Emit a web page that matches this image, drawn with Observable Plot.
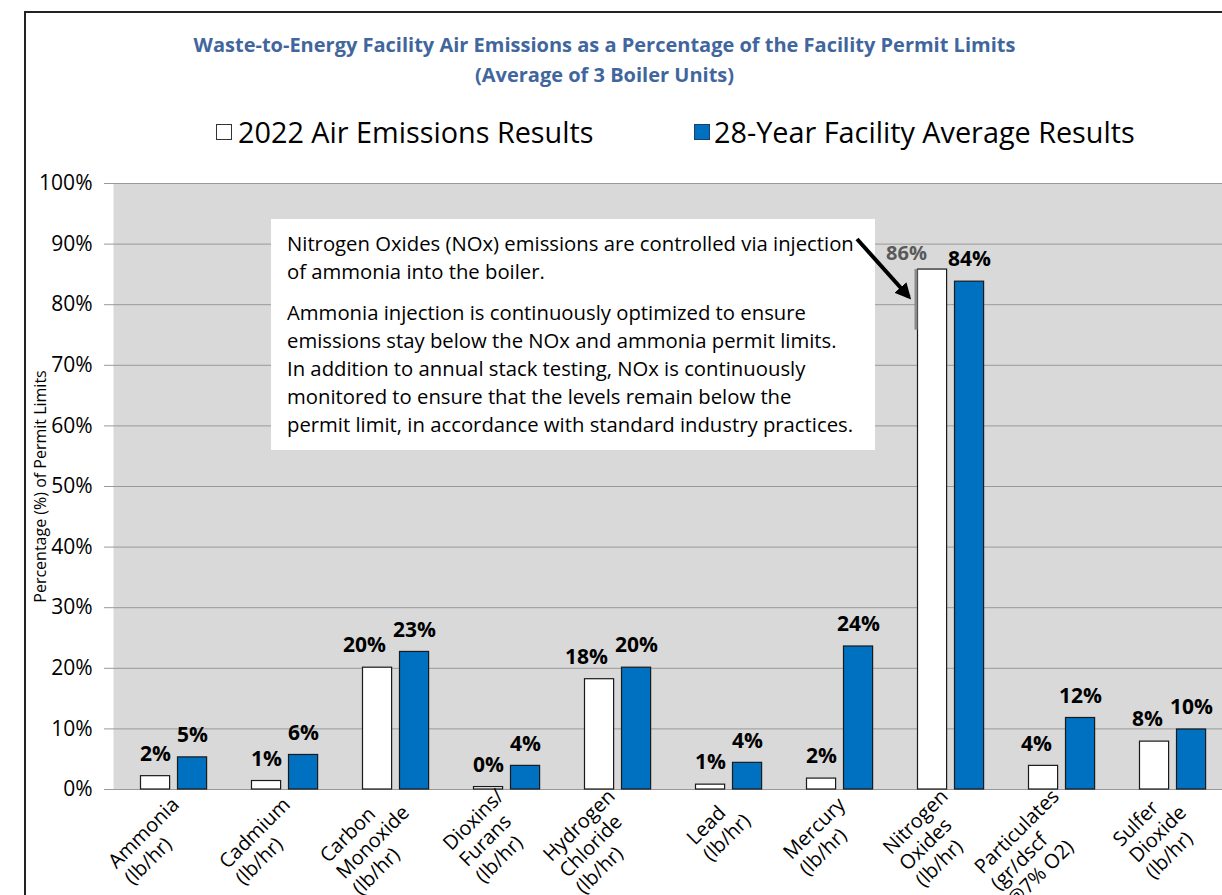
<!DOCTYPE html>
<html>
<head>
<meta charset="utf-8">
<script src="https://cdn.jsdelivr.net/npm/d3@7"></script>
<script src="https://cdn.jsdelivr.net/npm/@observablehq/plot@0.6"></script>
<style>
  html, body { margin: 0; padding: 0; background: #fff; }
  body { width: 1222px; height: 895px; overflow: hidden; position: relative; font-family: "Open Sans", sans-serif; }
  #frame { position: absolute; left: 24px; top: 11px; width: 1300px; height: 1000px; border-left: 2px solid #222; border-top: 2px solid #222; }
  #title { position: absolute; left: 0; top: 30px; width: 1209px; text-align: center; color: #41669d; font-weight: bold; font-size: 20px; line-height: 30px; white-space: nowrap; }
  .sw { position: absolute; top: 124px; width: 14px; height: 14px; border: 1px solid #333; }
  .lt { position: absolute; top: 112px; font-size: 28.8px; line-height: 40px; color: #000; white-space: nowrap; }
  #chart { position: absolute; left: 0; top: 160px; width: 1240px; }
  #chart svg { max-width: none; }
  #note { position: absolute; left: 271px; top: 219px; width: 588px; height: 221px; background: #fff; padding: 10px 0 0 16px; font-size: 20.3px; line-height: 28px; color: #000; white-space: nowrap; }
  #note p { margin: 0; }
  #note p + p { margin-top: 13px; }
  #arrow { position: absolute; left: 0; top: 0; }
</style>
</head>
<body>
<div id="frame"></div>
<div id="title">Waste-to-Energy Facility Air Emissions as a Percentage of the Facility Permit Limits<br>(Average of 3 Boiler Units)</div>
<div id="legend"></div>
<div id="chart"></div>
<div id="note"></div>
<svg id="arrow" width="1222" height="895">
  <defs>
    <marker id="head" viewBox="0 0 10 10" refX="8" refY="5" markerWidth="4" markerHeight="4" orient="auto">
      <path d="M0,0 L10,5 L0,10 z" fill="#000"></path>
    </marker>
  </defs>
  <line x1="857" y1="239" x2="909" y2="297" stroke="#000" stroke-width="4" marker-end="url(#head)"></line>
</svg>
<script>
// ---- data ----
const categories = ["Ammonia", "Cadmium", "Carbon Monoxide", "Dioxins/Furans", "Hydrogen Chloride", "Lead", "Mercury", "Nitrogen Oxides", "Particulates", "Sulfer Dioxide"];
const categoryLabels = [
  ["Ammonia", "(lb/hr)"],
  ["Cadmium", "(lb/hr)"],
  ["Carbon", "Monoxide", "(lb/hr)"],
  ["Dioxins/", "Furans", "(lb/hr)"],
  ["Hydrogen", "Chloride", "(lb/hr)"],
  ["Lead", "(lb/hr)"],
  ["Mercury", "(lb/hr)"],
  ["Nitrogen", "Oxides", "(lb/hr)"],
  ["Particulates", "(gr/dscf", "@7% O2)"],
  ["Sulfer", "Dioxide", "(lb/hr)"]
];
const results2022 = [2.2, 1.4, 20.1, 0.4, 18.2, 0.8, 1.8, 85.8, 3.9, 7.9];
const average28yr = [5.3, 5.7, 22.7, 3.9, 20.1, 4.4, 23.6, 83.8, 11.8, 9.9];
const yTicks = [0, 10, 20, 30, 40, 50, 60, 70, 80, 90, 100];
const seriesNames = ["2022 Air Emissions Results", "28-Year Facility Average Results"];
const seriesColors = ["#ffffff", "#0070c0"];
const yAxisTitle = "Percentage (%) of Permit Limits";
const highlighted = "Nitrogen Oxides";
const noteParagraphs = [
  ["Nitrogen Oxides (NOx) emissions are controlled via injection", "of ammonia into the boiler."],
  ["Ammonia injection is continuously optimized to ensure", "emissions stay below the NOx and ammonia permit limits.", "In addition to annual stack testing, NOx is continuously", "monitored to ensure that the levels remain below the", "permit limit, in accordance with standard industry practices."]
];

// ---- legend ----
const legend = document.getElementById("legend");
const legendPos = [[216, 238], [694, 714]];
seriesNames.forEach((name, i) => {
  const sw = document.createElement("div");
  sw.className = "sw";
  sw.style.left = legendPos[i][0] + "px";
  sw.style.background = seriesColors[i];
  sw.style.borderColor = i === 0 ? "#333" : "#1f3f66";
  legend.appendChild(sw);
  const t = document.createElement("div");
  t.className = "lt";
  t.style.left = legendPos[i][1] + "px";
  t.textContent = name;
  legend.appendChild(t);
});

// ---- note ----
const note = document.getElementById("note");
noteParagraphs.forEach(lines => {
  const p = document.createElement("p");
  p.innerHTML = lines.map(l => l.replace(/&/g, "&amp;").replace(/</g, "&lt;")).join("<br>");
  note.appendChild(p);
});

// ---- chart ----
const pct = v => Math.round(v) + "%";
const ctx = document.createElement("canvas").getContext("2d");

// geometry of the chart (styling)
const H = 735, mTop = 23, mBottom = 106;
const pxPerUnit = (H - mTop - mBottom) / 100;
const barOffset = 18.5;      // bar center offset from band center
const labelFont = 21, labelGap = 7;

ctx.font = `bold ${labelFont}px 'Open Sans'`;
const data = categories.map((c, i) => {
  const a = pct(results2022[i]), b = pct(average28yr[i]);
  const wa = ctx.measureText(a).width, wb = ctx.measureText(b).width;
  // shift the 2022 label left when it would collide with the average label
  const gap = (2 * barOffset) - wa / 2 - wb / 2;
  const dyPx = Math.abs(results2022[i] - average28yr[i]) * pxPerUnit;
  const shift = (gap < 4 && dyPx < 60) ? (labelGap - gap) : 0;
  return {category: c, r2022: results2022[i], avg: average28yr[i], la: a, lb: b, shift};
});

ctx.font = "20px 'Open Sans'";
const lineH = 1.15, xFont = 20;
const xLabelMarks = categories.map((c, i) => {
  const lines = categoryLabels[i];
  const W = Math.max(...lines.map(l => ctx.measureText(l).width));
  const half = lines.length * lineH * xFont / 2 * 0.7071;
  return Plot.text([c], {
    x: d => d,
    frameAnchor: "bottom",
    text: () => lines.join("\n"),
    rotate: -45,
    textAnchor: "start",
    lineAnchor: "top",
    lineHeight: lineH,
    fontSize: xFont,
    fill: "#000",
    dx: 11 - 0.7071 * W - half,
    dy: 21 + 0.7071 * W - half
  });
});

const labelMarks = data.map(d => d.category === highlighted
  ? Plot.text([d], {x: "category", y: "r2022", text: "la", dx: -barOffset - 26, dy: -16, fontSize: 20, fontWeight: "bold", fill: "#5a5a5a"})
  : Plot.text([d], {x: "category", y: "r2022", text: "la", dx: -barOffset - d.shift, dy: -22, fontSize: labelFont, fontWeight: "bold", fill: "#000"}));

const hl = data.filter(d => d.category === highlighted);

const chart = Plot.plot({
  width: 1240,
  height: H,
  marginLeft: 113,
  marginRight: 8,
  marginTop: mTop,
  marginBottom: mBottom,
  style: {fontFamily: "'Open Sans', sans-serif", fontSize: "19px", color: "#000", background: "transparent", overflow: "visible", maxWidth: "none"},
  x: {type: "band", domain: categories, padding: 0, axis: null},
  y: {domain: [0, 100], axis: null},
  marks: [
    Plot.frame({fill: "#d9d9d9", stroke: null}),
    Plot.gridY(yTicks, {stroke: "#999999", strokeOpacity: 1, strokeWidth: 1}),
    Plot.axisY(yTicks, {tickFormat: d => d + "%", tickSize: 9, tickPadding: 12, stroke: "#999999", fill: "#000", fontSize: 21, label: null}),
    Plot.text([yAxisTitle], {frameAnchor: "left", textAnchor: "middle", rotate: -90, dx: -73, fontSize: 16, fill: "#000", text: d => d}),
    Plot.barY(data, {x: "category", y: "r2022", fill: seriesColors[0], stroke: "#1a1a1a", strokeWidth: 1.2, insetLeft: 22.5, insetRight: 59.4}),
    Plot.barY(data, {x: "category", y: "avg", fill: seriesColors[1], stroke: "#1a1a1a", strokeWidth: 1.2, insetLeft: 59.5, insetRight: 22.4}),
    // grey highlight bracket at the top-left of the highlighted 2022 bar
    Plot.ruleX(hl, {x: "category", y1: d => d.r2022 - 10, y2: "r2022", dx: -barOffset - 16.5, stroke: "#8a8a8a", strokeWidth: 3}),
    ...labelMarks,
    Plot.text(data, {x: "category", y: "avg", text: "lb", dx: barOffset, dy: -22, fontSize: labelFont, fontWeight: "bold", fill: "#000"}),
    ...xLabelMarks
  ]
});
document.getElementById("chart").appendChild(chart);
</script>
</body>
</html>
